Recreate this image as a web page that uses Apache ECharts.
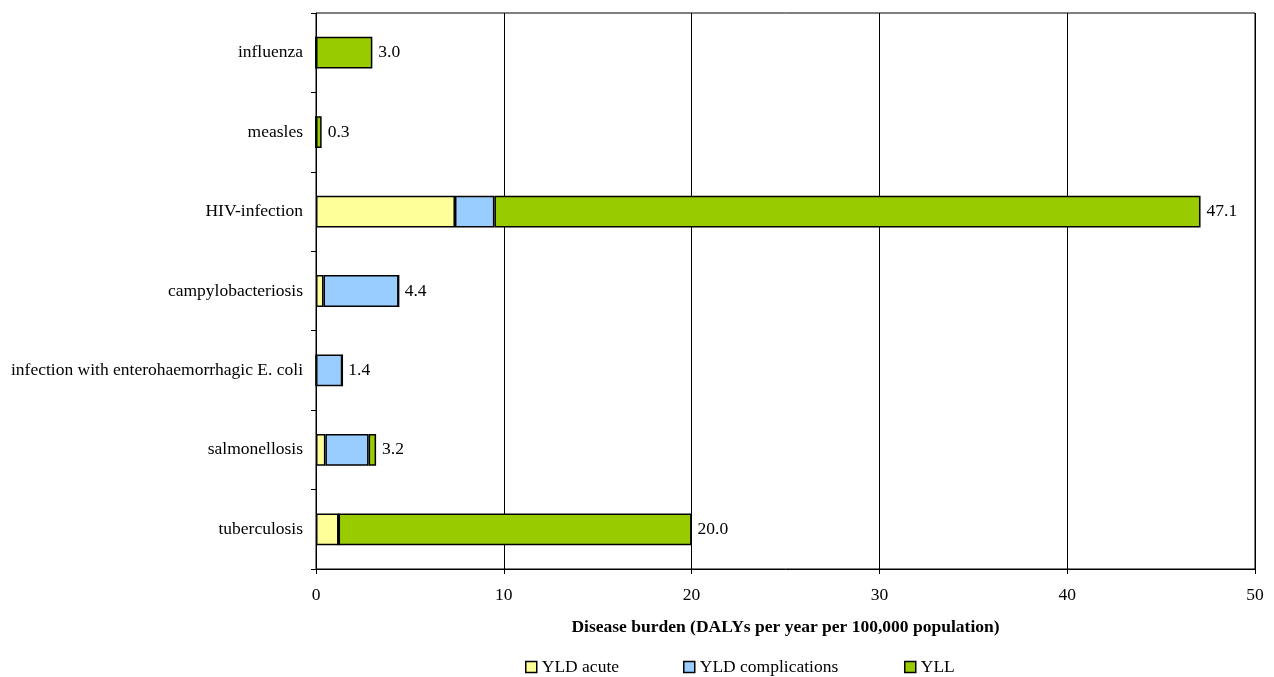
<!DOCTYPE html>
<html>
<head>
<meta charset="utf-8">
<script src="https://cdn.jsdelivr.net/npm/echarts@6/dist/echarts.min.js"></script>
<style>
  html, body { margin: 0; padding: 0; background: #fff; }
  #chart { width: 1274px; height: 677px; }
</style>
</head>
<body>
<div id="chart"></div>
<script>
// Disease burden per pathogen, DALYs per year per 100,000 population
const categories = [
  'tuberculosis',
  'salmonellosis',
  'infection with enterohaemorrhagic E. coli',
  'campylobacteriosis',
  'HIV-infection',
  'measles',
  'influenza'
];
const yldAcute         = [1.2, 0.5, 0.0, 0.4, 7.4, 0.0, 0.0];
const yldComplications = [0.0, 2.3, 1.4, 4.0, 2.1, 0.0, 0.0];
const yll              = [18.8, 0.4, 0.0, 0.0, 37.6, 0.3, 3.0];
const xTicks = [0, 10, 20, 30, 40, 50];

const totals = categories.map((_, i) =>
  Math.round((yldAcute[i] + yldComplications[i] + yll[i]) * 10) / 10);

const FONT = '"Liberation Serif", "Times New Roman", serif';
const FS = 17.5;
const border = { borderColor: '#000', borderWidth: 1.5 };

function seg(name, data, color) {
  return {
    name, type: 'bar', stack: 'burden', data,
    barWidth: '40%',
    itemStyle: Object.assign({ color }, border),
    emphasis: { disabled: true },
    animation: false
  };
}

const legendBase = {
  top: 653, itemWidth: 11, itemHeight: 11, icon: 'rect',
  itemStyle: { borderColor: '#000', borderWidth: 1.5 },
  textStyle: { fontFamily: FONT, fontSize: FS, color: '#000' },
  selectedMode: false
};

const chart = echarts.init(document.getElementById('chart'));
chart.setOption({
  animation: false,
  backgroundColor: '#fff',
  textStyle: { fontFamily: FONT },
  grid: { left: 316, right: 19, top: 13, bottom: 108, show: true, borderColor: '#000', borderWidth: 1, containLabel: false },
  legend: [
    Object.assign({ data: ['YLD acute'], left: 520 }, legendBase),
    Object.assign({ data: ['YLD complications'], left: 678 }, legendBase),
    Object.assign({ data: ['YLL'], left: 899 }, legendBase)
  ],
  xAxis: {
    type: 'value', min: xTicks[0], max: xTicks[xTicks.length - 1], interval: 10,
    axisLine: { show: true, lineStyle: { color: '#000' } },
    axisTick: { show: true, length: 5, lineStyle: { color: '#000' } },
    axisLabel: { fontFamily: FONT, fontSize: FS, color: '#000', margin: 17 },
    splitLine: { show: true, lineStyle: { color: '#000', width: 1 } },
    name: 'Disease burden (DALYs per year per 100,000 population)',
    nameLocation: 'middle', nameGap: 49,
    nameTextStyle: { fontFamily: FONT, fontSize: FS, fontWeight: 'bold', color: '#000' }
  },
  yAxis: {
    type: 'category', data: categories,
    axisLine: { show: true, lineStyle: { color: '#000' } },
    axisTick: { show: true, length: 5, lineStyle: { color: '#000' } },
    axisLabel: { fontFamily: FONT, fontSize: FS, color: '#000', margin: 13 },
    splitLine: { show: false }
  },
  series: [
    seg('YLD acute', yldAcute, '#FFFF99'),
    seg('YLD complications', yldComplications, '#99CCFF'),
    seg('YLL', yll, '#99CC00'),
    {
      name: 'total', type: 'bar', data: totals, barWidth: '40%', barGap: '-100%',
      itemStyle: { color: 'rgba(0,0,0,0)' },
      label: {
        show: true, position: 'right', distance: 6,
        fontFamily: FONT, fontSize: FS, color: '#000',
        formatter: p => p.value.toFixed(1)
      },
      z: 1, silent: true, animation: false
    }
  ]
});
</script>
</body>
</html>
